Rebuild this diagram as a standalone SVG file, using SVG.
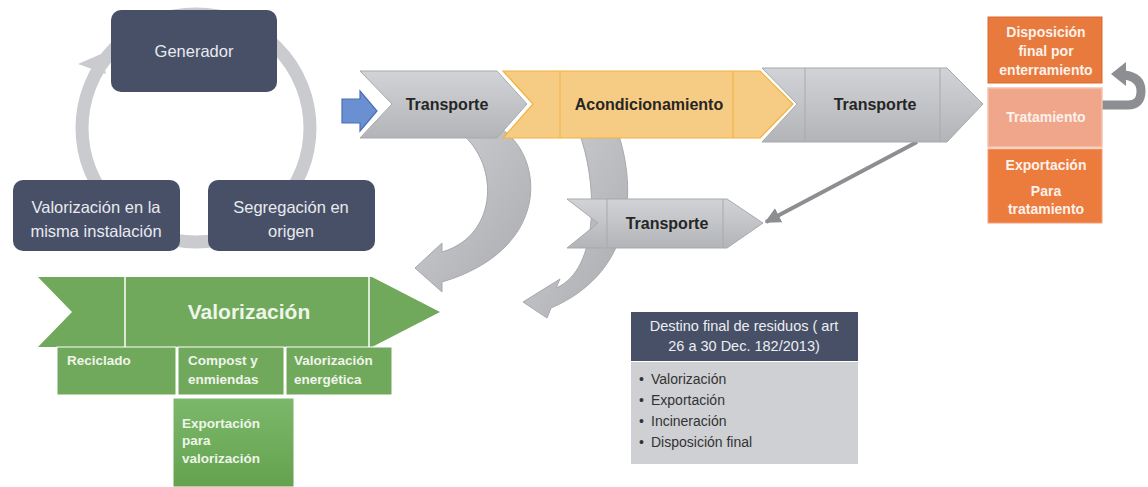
<svg xmlns="http://www.w3.org/2000/svg" width="1148" height="487" viewBox="0 0 1148 487">
<style>
.dark{fill:#475066;}
.dt{font-family:"Liberation Sans",Arial,sans-serif;font-size:16.5px;fill:#e8eaf0;text-anchor:middle;}
.gray{fill:url(#gg);stroke:#a7a9ac;stroke-width:1;}
.sep{stroke:#a7a9ac;stroke-width:1;}
.bt{font-family:"Liberation Sans",Arial,sans-serif;font-size:16px;font-weight:bold;fill:#262626;text-anchor:middle;}
.ot{font-family:"Liberation Sans",Arial,sans-serif;font-size:14px;font-weight:bold;fill:#fdf1ea;text-anchor:middle;}
.gt{font-family:"Liberation Sans",Arial,sans-serif;font-size:13.5px;font-weight:bold;fill:#eef5ea;}
.green{fill:#71a95c;}
.lt{font-family:"Liberation Sans",Arial,sans-serif;font-size:14px;fill:#333;}
.ht{font-family:"Liberation Sans",Arial,sans-serif;font-size:14.5px;fill:#eceef2;text-anchor:middle;}
</style>
<defs>
<linearGradient id="gg" x1="0" y1="0" x2="0" y2="1"><stop offset="0" stop-color="#d2d3d6"/><stop offset="1" stop-color="#b2b4b7"/></linearGradient>
<linearGradient id="ga" x1="0" y1="0" x2="1" y2="1"><stop offset="0" stop-color="#cfd0d3"/><stop offset="1" stop-color="#a9abaf"/></linearGradient>
<linearGradient id="gex" x1="0" y1="0" x2="0" y2="1"><stop offset="0" stop-color="#7cb86a"/><stop offset="1" stop-color="#64a24f"/></linearGradient>
<marker id="ah" viewBox="0 0 10 10" refX="9" refY="5" markerWidth="4" markerHeight="4" orient="auto"><path d="M0,0 L10,5 L0,10 Z" fill="#8c8e92"/></marker>
</defs>

<g id="connectors">
<circle cx="196" cy="128" r="114" fill="none" stroke="#c9cbcf" stroke-width="13"/>
<polygon points="78,64 106,74 101,54" fill="#c9cbcf"/>
<path d="M457 130 L503 130 C545 160 550 250 442 282 L442 292 L415 268 L442 243 L442 252 C500 235 500 160 457 130 Z" fill="url(#ga)" stroke="#a7a9ac" stroke-width="1"/>
<path d="M578 130 L617 130 C635 180 640 270 551 308 L547 318 L523 302 L560 279 L556 288 C600 270 598 180 578 130 Z" fill="url(#ga)" stroke="#a7a9ac" stroke-width="1"/>
<line x1="917" y1="142" x2="766" y2="222" stroke="#8c8e92" stroke-width="4" marker-end="url(#ah)"/>
<path d="M1100 105 H1128 Q1141 105 1141 91 Q1141 77 1124 75" fill="none" stroke="#8c8e92" stroke-width="9"/>
<polygon points="1111,74 1126,62 1126,86" fill="#8c8e92"/>
<path d="M342 99 L360 99 L360 91 L377 111 L360 131 L360 123 L342 123 Z" fill="#6b90d2" stroke="#4a6fb5" stroke-width="1.2"/>
</g>

<g id="generador">
<rect class="dark" x="111" y="10" width="166" height="82" rx="10"/>
<text class="dt" x="194" y="57">Generador</text>
</g>
<g id="valorizacion-misma">
<rect class="dark" x="13" y="180" width="167" height="71" rx="10"/>
<text class="dt" x="96" y="213">Valorización en la</text>
<text class="dt" x="96" y="237">misma instalación</text>
</g>
<g id="segregacion">
<rect class="dark" x="208" y="180" width="167" height="71" rx="10"/>
<text class="dt" x="291" y="213">Segregación en</text>
<text class="dt" x="291" y="237">origen</text>
</g>

<g id="transporte1">
<polygon class="gray" points="360,71 497,71 527,104 497,138 360,138 392,104"/>
<text class="bt" x="447" y="110">Transporte</text>
</g>
<g id="acondicionamiento">
<polygon points="503,71 760,71 793,104 760,138 503,138 533,104" fill="#f6cb83" stroke="#f0b33d" stroke-width="1.2"/>
<line x1="560" y1="71" x2="560" y2="138" stroke="#f0b33d" stroke-width="1"/>
<line x1="733" y1="71" x2="733" y2="138" stroke="#f0b33d" stroke-width="1"/>
<text class="bt" x="649" y="110">Acondicionamiento</text>
</g>
<g id="transporte2">
<polygon class="gray" points="762,68 947,68 983,104 947,142 762,142 797,104"/>
<line class="sep" x1="805" y1="68" x2="805" y2="142"/>
<line class="sep" x1="940" y1="68" x2="940" y2="142"/>
<text class="bt" x="875" y="110">Transporte</text>
</g>
<g id="transporte3">
<polygon class="gray" points="567,199 727,199 763,223 727,248 567,248 598,223"/>
<line class="sep" x1="607" y1="199" x2="607" y2="248"/>
<line class="sep" x1="723" y1="199" x2="723" y2="248"/>
<text class="bt" x="667" y="229">Transporte</text>
</g>

<g id="disposicion">
<rect x="988" y="17" width="114" height="66" fill="#e87a3e" stroke="#d9692e" stroke-width="1"/>
<text class="ot" x="1046" y="37">Disposición</text>
<text class="ot" x="1046" y="56">final  por</text>
<text class="ot" x="1046" y="75">enterramiento</text>
</g>
<g id="tratamiento">
<rect x="988" y="88" width="114" height="59" fill="#f0a68a" stroke="#f6c2ad" stroke-width="1.5"/>
<text class="ot" x="1046" y="122">Tratamiento</text>
</g>
<g id="exportacion-tratamiento">
<rect x="988" y="149" width="114" height="74" fill="#ec7b3e" stroke="#f4a07a" stroke-width="1"/>
<text class="ot" x="1046" y="170">Exportación</text>
<text class="ot" x="1046" y="196">Para</text>
<text class="ot" x="1046" y="214">tratamiento</text>
</g>

<g id="valorizacion">
<polygon class="green" points="38,277 372,277 440,312 372,347 38,347 72,312"/>
<line x1="125" y1="277" x2="125" y2="347" stroke="#ffffff" stroke-width="1.5"/>
<line x1="369" y1="277" x2="369" y2="347" stroke="#ffffff" stroke-width="1.5"/>
<text x="249" y="319" font-family="Liberation Sans, Arial, sans-serif" font-size="21" font-weight="bold" fill="#eef5ea" text-anchor="middle">Valorización</text>
</g>
<g id="reciclado">
<rect class="green" x="57" y="347" width="119" height="48" stroke="#ffffff" stroke-width="1"/>
<text class="gt" x="67" y="365">Reciclado</text>
</g>
<g id="compost">
<rect class="green" x="178" y="347" width="106" height="48" stroke="#ffffff" stroke-width="1"/>
<text class="gt" x="188" y="365">Compost y</text>
<text class="gt" x="188" y="384">enmiendas</text>
</g>
<g id="valorizacion-energetica">
<rect class="green" x="286" y="347" width="106" height="48" stroke="#ffffff" stroke-width="1"/>
<text class="gt" x="294" y="365">Valorización</text>
<text class="gt" x="294" y="384">energética</text>
</g>
<g id="exportacion-valorizacion">
<rect x="173" y="398" width="121" height="89" fill="url(#gex)" stroke="#ffffff" stroke-width="1"/>
<text class="gt" x="182" y="428">Exportación</text>
<text class="gt" x="182" y="445">para</text>
<text class="gt" x="182" y="463">valorización</text>
</g>

<g id="destino">
<rect x="631" y="312" width="227" height="49" fill="#475066"/>
<rect x="631" y="362" width="227" height="102" fill="#cfd0d4"/>
<text class="ht" x="744" y="331">Destino final de residuos ( art</text>
<text class="ht" x="744" y="351">26 a 30 Dec. 182/2013)</text>
<text class="lt" x="639" y="384">•</text><text class="lt" x="651" y="384">Valorización</text>
<text class="lt" x="639" y="405">•</text><text class="lt" x="651" y="405">Exportación</text>
<text class="lt" x="639" y="426">•</text><text class="lt" x="651" y="426">Incineración</text>
<text class="lt" x="639" y="447">•</text><text class="lt" x="651" y="447">Disposición final</text>
</g>
</svg>
